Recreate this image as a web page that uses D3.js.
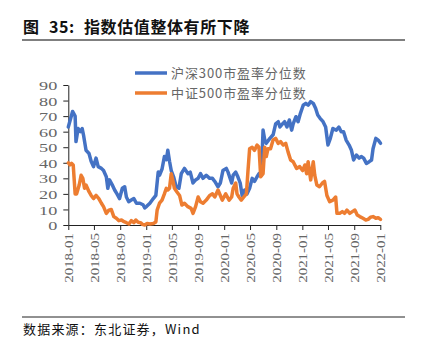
<!DOCTYPE html>
<html><head><meta charset="utf-8">
<script src="https://cdn.jsdelivr.net/npm/d3@7"></script>
<style>
body{margin:0;background:#fff;}
svg{display:block;}
</style></head>
<body>
<svg id="c" width="423" height="348"></svg>
<script>
const titleParts = ["图", "35:", "指数估值整体有所下降"];
const sourceText = "数据来源：东北证券，Wind";
const seriesNames = ["沪深300市盈率分位数", "中证500市盈率分位数"];
const yTicks = [0,10,20,30,40,50,60,70,80,90];
const xTickLabels = ["2018-01","2018-05","2018-09","2019-01","2019-05","2019-09","2020-01","2020-05","2020-09","2021-01","2021-05","2021-09","2022-01"];

const hs300Dates = ["2018-01-01","2018-01-21","2018-02-02","2018-02-06","2018-02-16","2018-02-27","2018-03-07","2018-03-13","2018-03-25","2018-04-08","2018-04-18","2018-04-29","2018-05-11","2018-05-21","2018-06-05","2018-06-15","2018-06-28","2018-07-05","2018-07-13","2018-07-25","2018-08-06","2018-08-17","2018-08-29","2018-09-11","2018-09-22","2018-09-30","2018-10-11","2018-10-23","2018-11-04","2018-11-16","2018-12-02","2018-12-17","2018-12-25","2019-01-03","2019-01-18","2019-02-03","2019-02-15","2019-02-26","2019-03-04","2019-03-16","2019-03-27","2019-04-05","2019-04-12","2019-04-20","2019-04-28","2019-05-09","2019-05-21","2019-06-03","2019-06-14","2019-06-29","2019-07-15","2019-07-26","2019-08-08","2019-08-20","2019-09-01","2019-09-12","2019-09-24","2019-10-09","2019-10-25","2019-11-07","2019-11-18","2019-12-03","2019-12-14","2019-12-26","2020-01-11","2020-01-19","2020-02-05","2020-02-12","2020-02-24","2020-03-05","2020-03-16","2020-03-25","2020-04-06","2020-04-17","2020-04-29","2020-05-11","2020-05-22","2020-06-03","2020-06-12","2020-06-23","2020-07-01","2020-07-09","2020-07-16","2020-08-02","2020-08-17","2020-08-29","2020-09-10","2020-09-18","2020-09-30","2020-10-10","2020-10-21","2020-11-01","2020-11-12","2020-11-19","2020-12-02","2020-12-12","2020-12-23","2021-01-05","2021-01-17","2021-01-28","2021-02-09","2021-02-21","2021-03-04","2021-03-14","2021-03-25","2021-04-08","2021-04-20","2021-05-01","2021-05-12","2021-05-24","2021-06-09","2021-06-21","2021-07-02","2021-07-13","2021-07-25","2021-08-08","2021-08-19","2021-08-29","2021-09-11","2021-09-24","2021-10-05","2021-10-15","2021-10-28","2021-11-10","2021-11-21","2021-11-28","2021-12-11","2021-12-22","2022-01-02"];
const hs300Values = [63,73,70,53.6,62,60,62,58,48,46,41,37.5,43,37.5,36.4,35,31,23.6,29,26,22.5,20,17,23.6,24.6,18,15,16,17,14,14,13,11,12,14,17,19,34,32,36,44,42,48,41,35,31,24.6,23.6,33,36.4,33,34,27,29,30,33,30,32,30,30,28,24.6,27,35,36.4,34,27,32,34,31,27,19,22.5,20,23.6,30,28,31,33,32,61,54.6,52.5,55.7,58,65,66.4,63,65,66.4,63,67.5,61,65,69.6,66.4,71.8,77,78.2,77,79.3,78.2,75,70.7,68.6,66.4,63,51.4,55.7,62,61,63,60,60,54.6,51.4,48,41.8,45,43,44,43,39.6,40.7,41.8,49,55.7,54.6,52.5];

const zz500Dates = ["2018-01-01","2018-01-09","2018-01-16","2018-01-24","2018-02-02","2018-02-09","2018-02-21","2018-03-02","2018-03-10","2018-03-18","2018-03-25","2018-04-08","2018-04-18","2018-04-29","2018-05-11","2018-05-24","2018-06-05","2018-06-15","2018-06-28","2018-07-10","2018-07-21","2018-08-02","2018-08-14","2018-08-26","2018-09-07","2018-09-19","2018-09-30","2018-10-12","2018-10-23","2018-11-04","2018-11-13","2018-11-24","2018-12-05","2018-12-14","2018-12-25","2019-01-05","2019-01-18","2019-02-03","2019-02-15","2019-02-21","2019-03-04","2019-03-16","2019-03-27","2019-04-05","2019-04-12","2019-04-20","2019-04-28","2019-05-05","2019-05-13","2019-05-24","2019-06-06","2019-06-17","2019-06-29","2019-07-15","2019-07-30","2019-08-08","2019-08-20","2019-09-01","2019-09-12","2019-09-24","2019-10-09","2019-10-25","2019-11-07","2019-11-18","2019-12-03","2019-12-14","2019-12-23","2020-01-08","2020-01-24","2020-02-05","2020-02-12","2020-02-24","2020-03-01","2020-03-10","2020-03-21","2020-04-02","2020-04-14","2020-04-21","2020-04-29","2020-05-11","2020-05-22","2020-06-03","2020-06-12","2020-06-20","2020-07-01","2020-07-09","2020-07-16","2020-07-24","2020-08-05","2020-08-17","2020-08-29","2020-09-10","2020-09-21","2020-10-03","2020-10-15","2020-10-26","2020-11-07","2020-11-19","2020-12-05","2020-12-20","2021-01-02","2021-01-13","2021-01-21","2021-01-28","2021-02-09","2021-02-21","2021-02-28","2021-03-10","2021-03-22","2021-04-05","2021-04-15","2021-04-26","2021-05-09","2021-05-24","2021-06-06","2021-06-12","2021-06-25","2021-07-07","2021-07-18","2021-07-29","2021-08-11","2021-08-23","2021-09-04","2021-09-15","2021-09-27","2021-10-12","2021-10-25","2021-11-05","2021-11-16","2021-11-28","2021-12-11","2021-12-22","2022-01-02"];
const zz500Values = [40,38.6,39.6,38.6,20,20,25.7,32,30,23.6,25.7,21.4,19,17,19,17,14,11.8,7.5,9.6,10,5.4,4.3,2.8,3.2,2.1,1.5,0.6,2.8,1.5,3.2,1.7,1.5,0.4,0,1,0.6,1,2,9.6,14,16,20,23.6,22.5,23.6,33,29,23.6,21.4,19,12.8,14,11.8,10.7,7.5,11.8,18,15,14,16,19,20,18,22.5,19,16,20,16,18,23.6,27,20,18,16,18,20,34,49,50,48,51.4,50,31,33,50,44,49,49,54.6,55.7,52.5,53.6,51.4,52.5,47,41.8,40.7,36.4,37.5,35,38.6,33,40.7,29,40.7,32,25.7,24.6,27,28,19,15,16,18,7.5,7.5,8.6,7.5,9.6,7.5,8.6,9.6,6.4,5.4,4.3,3.2,3.6,5,5.4,4.3,4.7,3.6];

const colors = ["#4472C4", "#ED7D31"];
const parse = d3.timeParse("%Y-%m-%d");
const parseM = d3.timeParse("%Y-%m");

const svg = d3.select("#c");
const x = d3.scaleTime().domain([parseM("2018-01"), parseM("2022-01")]).range([68.3, 380.3]);
const y = d3.scaleLinear().domain([0, 90]).range([225, 85]);

// title
const titleX = [23, 49, 84];
titleParts.forEach((t, i) => {
  svg.append("text").attr("x", titleX[i]).attr("y", 33).text(t)
    .attr("font-family", "'Noto Sans CJK SC', sans-serif").attr("font-weight", "bold")
    .attr("font-size", 16).attr("letter-spacing", i === 2 ? 0.6 : 0.5).attr("fill", "#111");
});
svg.append("line").attr("x1", 22).attr("x2", 405).attr("y1", 40).attr("y2", 40)
  .attr("stroke", "#7f7f7f").attr("stroke-width", 2);

// axes
const yAxis = d3.axisLeft(y).tickValues(yTicks).tickSize(5).tickSizeOuter(0);
const gy = svg.append("g").attr("transform", "translate(68.3,0)").call(yAxis);
gy.select(".domain").attr("stroke", "#222");
gy.selectAll(".tick line").attr("stroke", "#222");
gy.selectAll(".tick text").attr("x", 0).attr("dy", "0.35em")
  .attr("transform", "translate(-11,0) scale(1.4,1)")
  .attr("font-family", "'Liberation Serif', serif").attr("font-size", 13).attr("fill", "#666");

const xAxis = d3.axisBottom(x).tickValues(xTickLabels.map(parseM)).tickFormat(d3.timeFormat("%Y-%m")).tickSize(5).tickSizeOuter(0);
const gx = svg.append("g").attr("transform", "translate(0,225)").call(xAxis);
gx.select(".domain").attr("stroke", "#222");
gx.selectAll(".tick line").attr("stroke", "#222");
gx.selectAll(".tick text").attr("x", 0).attr("y", 0).attr("dy", "0.35em")
  .attr("text-anchor", "end")
  .attr("transform", "translate(0,8) rotate(-90) scale(1.15,1)")
  .attr("font-family", "'Liberation Serif', serif").attr("font-size", 13).attr("fill", "#666");

// lines
const line = d3.line().x(d => x(d[0])).y(d => y(d[1])).curve(d3.curveLinear);
const series = [
  hs300Dates.map((d, i) => [parse(d), hs300Values[i]]),
  zz500Dates.map((d, i) => [parse(d), zz500Values[i]])
];
[0, 1].forEach(i => {
  svg.append("path").datum(series[i]).attr("d", line)
    .attr("fill", "none").attr("stroke", colors[i]).attr("stroke-width", 3.5)
    .attr("stroke-linejoin", "round").attr("stroke-linecap", "round");
});

// legend
const legY = [73, 93];
seriesNames.forEach((n, i) => {
  svg.append("line").attr("x1", 135).attr("x2", 167).attr("y1", legY[i]).attr("y2", legY[i])
    .attr("stroke", colors[i]).attr("stroke-width", 3.5);
  svg.append("text").attr("x", 171).attr("y", legY[i]).attr("dy", "0.36em").text(n)
    .attr("font-family", "'Noto Sans CJK SC', sans-serif").attr("font-size", 13)
    .attr("letter-spacing", 0.9).attr("fill", "#666");
});

// source
svg.append("line").attr("x1", 22).attr("x2", 405).attr("y1", 317).attr("y2", 317)
  .attr("stroke", "#222").attr("stroke-width", 1);
svg.append("text").attr("x", 23).attr("y", 334).text(sourceText)
  .attr("font-family", "'Noto Sans CJK SC', sans-serif").attr("font-size", 13)
  .attr("letter-spacing", 1.2).attr("fill", "#111");
</script>
</body></html>
